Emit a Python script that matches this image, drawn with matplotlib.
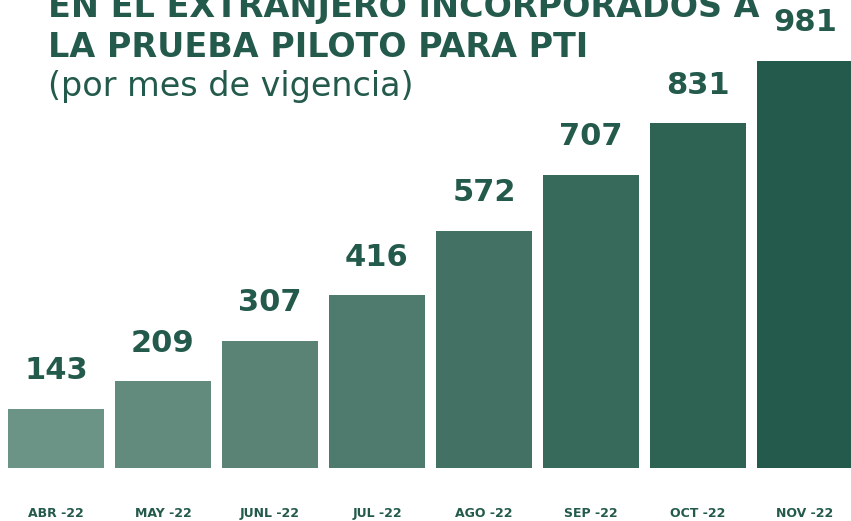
import matplotlib
matplotlib.use("Agg")
import matplotlib.pyplot as plt
from matplotlib import font_manager

# data
months = ["ABR -22", "MAY -22", "JUNL -22", "JUL -22", "AGO -22", "SEP -22", "OCT -22", "NOV -22"]
values = [143, 209, 307, 416, 572, 707, 831, 981]

title_lines = ["EN EL EXTRANJERO INCORPORADOS A", "LA PRUEBA PILOTO PARA PTI"]
subtitle = "(por mes de vigencia)"

dark = "#235a4b"
bar_colors = ["#6b9487", "#628b7e", "#5a8376", "#4f7b6e",
              "#437264", "#386a5b", "#2e6353", "#235a4b"]

names = {f.name for f in font_manager.fontManager.ttflist}
tick_font = "Liberation Sans Narrow" if "Liberation Sans Narrow" in names else "DejaVu Sans"

W, H = 851, 521
fig = plt.figure(figsize=(W / 100, H / 100), dpi=100)
fig.patch.set_facecolor("white")

# axes spans from top of figure down to bar baseline (468 px)
ax = fig.add_axes([0, (H - 468) / H, 1, 468 / H])
ax.set_facecolor("none")

x = list(range(len(values)))
ax.bar(x, values, width=0.89, color=bar_colors, zorder=2)
for xi, v in zip(x, values):
    ax.annotate(str(v), (xi, v), xytext=(0, 17), textcoords="offset points",
                ha="center", va="bottom", fontsize=22, fontweight="bold",
                color=dark, zorder=3)

ax.set_xlim(-0.523, 7.43)
ax.set_ylim(0, 1128)
ax.set_xticks(x)
ax.set_xticklabels(months, fontfamily=tick_font, fontweight="bold",
                   fontsize=9, color=dark)
ax.tick_params(axis="x", length=0, pad=28)
ax.set_yticks([])
for s in ax.spines.values():
    s.set_visible(False)

# title block
fig.text(48 / W, 1 - 17 / H, title_lines[0], fontsize=24, fontweight="bold",
         color=dark, ha="left", va="baseline")
fig.text(48 / W, 1 - 57 / H, title_lines[1], fontsize=24, fontweight="bold",
         color=dark, ha="left", va="baseline")
fig.text(48 / W, 1 - 96 / H, subtitle, fontsize=24, color=dark,
         ha="left", va="baseline")

fig.savefig("out.png", dpi=100)
